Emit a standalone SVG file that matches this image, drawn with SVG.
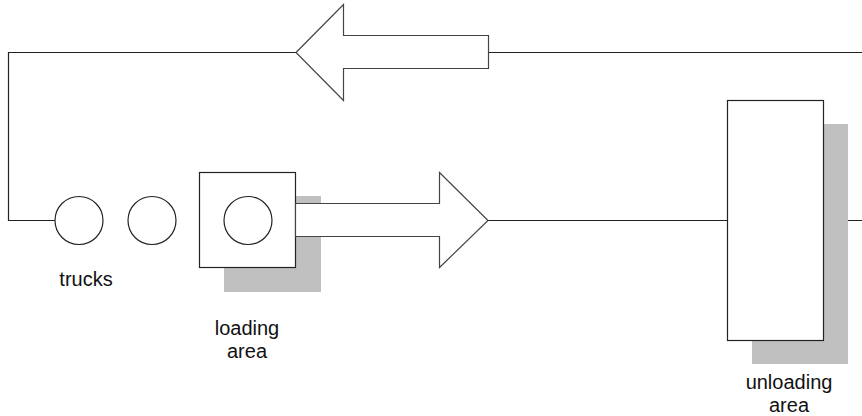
<svg xmlns="http://www.w3.org/2000/svg" width="862" height="416" viewBox="0 0 862 416">
<style>
.ln{fill:none;stroke:#222;stroke-width:1.2}
.sh{fill:#c0c0c0;stroke:none}
.bx{fill:#fff;stroke:#222;stroke-width:1.2}
.ar{fill:#fff;stroke:#444;stroke-width:1.2;stroke-linejoin:miter}
.lb{font-family:"Liberation Sans",Arial,sans-serif;font-size:20px;fill:#111;text-anchor:middle}
</style>
<rect width="862" height="416" fill="#fff"/>
<g id="connectors">
<path class="ln" d="M296 52.5 H8.5 V220.5 H55"/>
<path class="ln" d="M488 52.5 H862"/>
<path class="ln" d="M488 220.5 H728"/>
<path class="ln" d="M824 220.5 H862"/>
</g>
<g id="return-arrow">
<polygon class="ar" points="296,52.5 343.5,4.5 343.5,35.5 488.5,35.5 488.5,68.5 343.5,68.5 343.5,100.5"/>
</g>
<g id="truck1"><circle class="bx" cx="79" cy="220.5" r="24"/></g>
<g id="truck2"><circle class="bx" cx="152" cy="220.5" r="24"/></g>
<g id="loading-area">
<rect class="sh" x="224" y="196" width="97" height="96"/>
<rect class="bx" x="199.5" y="172.5" width="96" height="95"/>
<circle class="bx" cx="248" cy="220.5" r="24"/>
</g>
<g id="forward-arrow">
<polygon class="ar" points="295.5,203.5 439.5,203.5 439.5,172.5 488,220.5 439.5,267.5 439.5,236.5 295.5,236.5"/>
</g>
<g id="unloading-area">
<rect class="sh" x="752" y="124" width="96" height="240"/>
<rect class="bx" x="727.5" y="100.5" width="96" height="240"/>
</g>
<g id="labels">
<text class="lb" x="86" y="286">trucks</text>
<text class="lb" x="247" y="335">loading</text>
<text class="lb" x="247" y="358">area</text>
<text class="lb" x="789" y="389">unloading</text>
<text class="lb" x="789" y="412">area</text>
</g>
</svg>
